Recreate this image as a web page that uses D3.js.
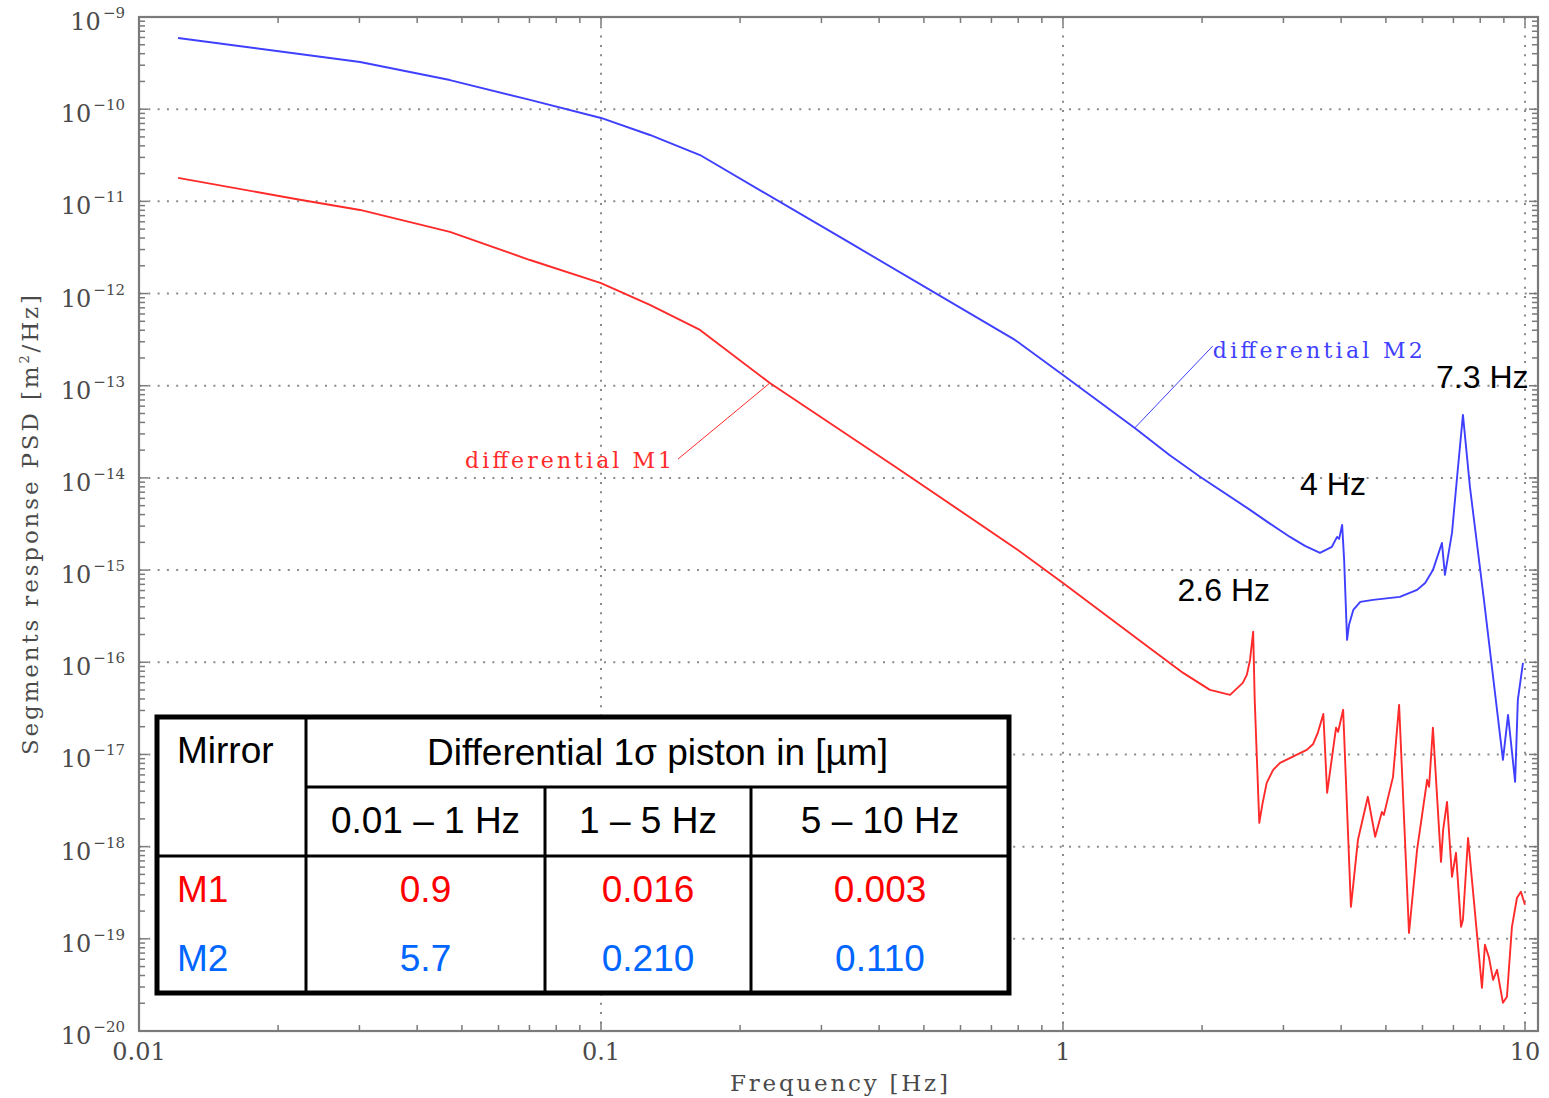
<!DOCTYPE html>
<html>
<head>
<meta charset="utf-8">
<script src="https://cdn.jsdelivr.net/npm/d3@7/dist/d3.min.js"></script>
<style>
body { margin: 0; background: #fff; }
</style>
</head>
<body>
<div id="viz"></div>
<script>
// differential M2 response (blue)
var m2_freq = [0.01215, 0.0301, 0.0471, 0.0702, 0.1, 0.1276, 0.1638, 0.346, 0.787, 1, 1.43, 1.70, 1.98, 2.54, 2.81, 3.10, 3.34, 3.60, 3.82, 3.92, 3.96, 4.02, 4.06, 4.12, 4.16, 4.25, 4.40, 4.69, 5.36, 5.84, 6.08, 6.32, 6.61, 6.71, 6.95, 7.13, 7.34, 7.60, 8.15, 8.96, 9.19, 9.52, 9.65, 9.90];
var m2_psd = [5.92e-10, 3.25e-10, 2.07e-10, 1.26e-10, 8.03e-11, 5.25e-11, 3.18e-11, 3.54e-12, 3.14e-13, 1.31e-13, 3.48e-14, 1.77e-14, 1.03e-14, 4.50e-15, 3.17e-15, 2.29e-15, 1.83e-15, 1.54e-15, 1.79e-15, 2.29e-15, 2.18e-15, 3.09e-15, 1.29e-15, 1.75e-16, 2.55e-16, 3.70e-16, 4.52e-16, 4.75e-16, 5.12e-16, 6.10e-16, 7.26e-16, 1.00e-15, 1.97e-15, 8.87e-16, 2.53e-15, 1.03e-14, 4.82e-14, 7.98e-15, 4.75e-16, 8.73e-18, 2.69e-17, 5.05e-18, 3.91e-17, 9.86e-17];

// differential M1 response (red)
var m1_freq = [0.01215, 0.0223, 0.0301, 0.0471, 0.0702, 0.1, 0.1276, 0.1638, 0.232, 0.444, 0.787, 1, 1.54, 1.82, 2.08, 2.30, 2.45, 2.50, 2.54, 2.58, 2.60, 2.66, 2.70, 2.76, 2.85, 2.95, 3.37, 3.48, 3.56, 3.66, 3.73, 3.90, 3.94, 4.04, 4.20, 4.35, 4.57, 4.74, 4.90, 4.95, 5.18, 5.34, 5.61, 5.84, 6.14, 6.20, 6.32, 6.58, 6.65, 6.78, 6.95, 7.09, 7.27, 7.34, 7.53, 8.07, 8.19, 8.36, 8.53, 8.70, 8.96, 9.14, 9.37, 9.61, 9.80, 10];
var m1_psd = [1.80e-11, 1.04e-11, 8.07e-12, 4.66e-12, 2.31e-12, 1.30e-12, 7.52e-13, 4.03e-13, 1.07e-13, 1.22e-14, 1.74e-15, 7.26e-16, 1.43e-16, 7.67e-17, 5.02e-17, 4.43e-17, 5.98e-17, 7.29e-17, 1.06e-16, 2.14e-16, 3.91e-17, 1.81e-18, 2.84e-18, 4.92e-18, 6.81e-18, 8.11e-18, 1.12e-17, 1.30e-17, 1.71e-17, 2.75e-17, 3.84e-18, 1.95e-17, 1.76e-17, 3.05e-17, 2.22e-19, 1.19e-18, 3.47e-18, 1.28e-18, 2.38e-18, 2.21e-18, 5.71e-18, 3.45e-17, 1.16e-19, 9.23e-19, 5.31e-18, 4.46e-18, 1.95e-17, 6.84e-19, 1.52e-18, 3.06e-18, 4.71e-19, 8.57e-19, 1.35e-19, 1.61e-19, 1.24e-18, 2.94e-20, 8.61e-20, 6.22e-20, 3.59e-20, 4.61e-20, 2.02e-20, 2.35e-20, 1.35e-19, 2.79e-19, 3.24e-19, 2.34e-19];

var x_ticks = [0.01, 0.1, 1, 10],
	x_tick_labels = ['0.01', '0.1', '1', '10'];
var y_exponents = [-9, -10, -11, -12, -13, -14, -15, -16, -17, -18, -19, -20];

var peak_labels = ['2.6 Hz', '4 Hz', '7.3 Hz'];
var table_bands = ['0.01 \u2013 1 Hz', '1 \u2013 5 Hz', '5 \u2013 10 Hz'];
var table_mirrors = ['M1', 'M2'];
var m1_piston = ['0.9', '0.016', '0.003'],
	m2_piston = ['5.7', '0.210', '0.110'];

var w = 1549,
	h = 1098,
	plot_left = 139,
	plot_right = 1538,
	plot_top = 17,
	plot_bottom = 1031;

var blue = '#3f3fff',
	red = '#ff2a2a',
	axis_grey = '#7a7a7a',
	serif = '"DejaVu Serif", "Liberation Serif", serif',
	sans = '"Liberation Sans", Arial, sans-serif';

var x = d3.scaleLog().domain([0.01, 10.67]).range([plot_left, plot_right]);
var y = d3.scaleLog().domain([1e-20, 1e-9]).range([plot_bottom, plot_top]);

var svg = d3.select('#viz').append('svg')
	.attr('width', w)
	.attr('height', h)
	.attr('viewBox', '0 0 ' + w + ' ' + h);

svg.append('rect')
	.attr('width', w)
	.attr('height', h)
	.attr('fill', '#fff');

//GRID
var grid = svg.append('g').attr('class', 'grid');
grid.selectAll('.hgrid')
	.data(y_exponents.filter(function(e){ return e !== -9 && e !== -20; }))
	.enter().append('line')
		.attr('class', 'hgrid')
		.attr('x1', plot_left)
		.attr('x2', plot_right)
		.attr('y1', function(d){ return y(Math.pow(10, d)); })
		.attr('y2', function(d){ return y(Math.pow(10, d)); })
		.attr('stroke', '#8a8a8a')
		.attr('stroke-width', 2)
		.attr('stroke-dasharray', '2,7.3');
grid.selectAll('.vgrid')
	.data(x_ticks.slice(1))
	.enter().append('line')
		.attr('class', 'vgrid')
		.attr('x1', function(d){ return x(d); })
		.attr('x2', function(d){ return x(d); })
		.attr('y1', plot_top)
		.attr('y2', plot_bottom)
		.attr('stroke', '#8a8a8a')
		.attr('stroke-width', 2)
		.attr('stroke-dasharray', '2,7.3');

//TICKS
var x_minor = [], y_minor = [];
for (var d = -2; d <= 0; d++) {
	for (var k = 1; k <= 9; k++) { x_minor.push({v: k * Math.pow(10, d), major: k === 1}); }
}
x_minor.push({v: 10, major: true});
for (var e = -20; e <= -10; e++) {
	for (var k2 = 1; k2 <= 9; k2++) { y_minor.push({v: k2 * Math.pow(10, e), major: k2 === 1}); }
}
y_minor.push({v: 1e-9, major: true});

var ticks = svg.append('g').attr('class', 'ticks')
	.attr('stroke', axis_grey)
	.attr('stroke-width', 1.5);
ticks.selectAll('.xt-top').data(x_minor).enter().append('line')
	.attr('x1', function(d){ return x(d.v); })
	.attr('x2', function(d){ return x(d.v); })
	.attr('y1', plot_top)
	.attr('y2', function(d){ return plot_top + (d.major ? 9 : 6); });
ticks.selectAll('.xt-bot').data(x_minor).enter().append('line')
	.attr('x1', function(d){ return x(d.v); })
	.attr('x2', function(d){ return x(d.v); })
	.attr('y1', plot_bottom)
	.attr('y2', function(d){ return plot_bottom - (d.major ? 9 : 6); });
ticks.selectAll('.yt-left').data(y_minor).enter().append('line')
	.attr('y1', function(d){ return y(d.v); })
	.attr('y2', function(d){ return y(d.v); })
	.attr('x1', plot_left)
	.attr('x2', function(d){ return plot_left + (d.major ? 9 : 6); });
ticks.selectAll('.yt-right').data(y_minor).enter().append('line')
	.attr('y1', function(d){ return y(d.v); })
	.attr('y2', function(d){ return y(d.v); })
	.attr('x1', plot_right)
	.attr('x2', function(d){ return plot_right - (d.major ? 9 : 6); });

//FRAME
svg.append('rect')
	.attr('x', plot_left)
	.attr('y', plot_top)
	.attr('width', plot_right - plot_left)
	.attr('height', plot_bottom - plot_top)
	.attr('fill', 'none')
	.attr('stroke', axis_grey)
	.attr('stroke-width', 2.2);

//TICK LABELS
svg.selectAll('.xlabel')
	.data(x_ticks)
	.enter().append('text')
		.attr('class', 'xlabel')
		.attr('x', function(d){ return x(d); })
		.attr('y', 1060)
		.attr('text-anchor', 'middle')
		.attr('font-family', serif)
		.attr('font-size', 24)
		.attr('fill', '#4a4a4a')
		.text(function(d, i){ return x_tick_labels[i]; });

var ylab = svg.selectAll('.ylabel')
	.data(y_exponents)
	.enter().append('text')
		.attr('class', 'ylabel')
		.attr('x', 125)
		.attr('y', function(d){ return y(Math.pow(10, d)) + 13; })
		.attr('text-anchor', 'end')
		.attr('font-family', serif)
		.attr('font-size', 24)
		.attr('fill', '#4a4a4a');
ylab.append('tspan').text('10');
ylab.append('tspan')
	.attr('dy', -12)
	.attr('dx', 2)
	.attr('font-size', 15)
	.text(function(d){ return '\u2212' + Math.abs(d); });

//AXIS TITLES
svg.append('text')
	.attr('x', 839)
	.attr('y', 1091)
	.attr('text-anchor', 'middle')
	.attr('font-family', serif)
	.attr('font-size', 23)
	.attr('fill', '#4a4a4a')
	.attr('textLength', 218)
	.attr('lengthAdjust', 'spacing')
	.text('Frequency [Hz]');

var ytitle = svg.append('text')
	.attr('transform', 'translate(38,525) rotate(-90)')
	.attr('text-anchor', 'middle')
	.attr('font-family', serif)
	.attr('font-size', 23)
	.attr('fill', '#4a4a4a')
	.attr('textLength', 460)
	.attr('lengthAdjust', 'spacing');
ytitle.append('tspan').text('Segments response PSD [m');
ytitle.append('tspan').attr('dy', -9).attr('font-size', 13).text('2');
ytitle.append('tspan').attr('dy', 9).text('/Hz]');

//CURVES
var line = d3.line()
	.x(function(d){ return x(d[0]); })
	.y(function(d){ return y(d[1]); });

svg.append('path')
	.datum(m1_freq.map(function(f, i){ return [f, m1_psd[i]]; }))
	.attr('class', 'm1')
	.attr('d', line)
	.attr('fill', 'none')
	.attr('stroke', red)
	.attr('stroke-width', 1.9)
	.attr('stroke-linejoin', 'round');

svg.append('path')
	.datum(m2_freq.map(function(f, i){ return [f, m2_psd[i]]; }))
	.attr('class', 'm2')
	.attr('d', line)
	.attr('fill', 'none')
	.attr('stroke', blue)
	.attr('stroke-width', 1.9)
	.attr('stroke-linejoin', 'round');

//CURVE LABELS
svg.append('line')
	.attr('x1', x(2.11)).attr('y1', y(2.0e-13) - 12)
	.attr('x2', x(1.43)).attr('y2', y(3.48e-14))
	.attr('stroke', blue)
	.attr('stroke-width', 1);
svg.append('text')
	.attr('x', x(2.11))
	.attr('y', y(2.0e-13))
	.attr('font-family', serif)
	.attr('font-size', 22)
	.attr('fill', blue)
	.attr('textLength', 210)
	.attr('lengthAdjust', 'spacing')
	.text('differential M2');

svg.append('line')
	.attr('x1', x(0.1468)).attr('y1', y(1.6e-14))
	.attr('x2', x(0.232)).attr('y2', y(1.07e-13))
	.attr('stroke', red)
	.attr('stroke-width', 1);
svg.append('text')
	.attr('x', x(0.0508))
	.attr('y', y(1.28e-14))
	.attr('font-family', serif)
	.attr('font-size', 22)
	.attr('fill', red)
	.attr('textLength', 207)
	.attr('lengthAdjust', 'spacing')
	.text('differential M1');

//PEAK LABELS
var peak_anchor = [[1.77, 4.6e-16], [3.26, 6.5e-15], [6.42, 9.5e-14]];
svg.selectAll('.peak')
	.data(peak_labels)
	.enter().append('text')
		.attr('class', 'peak')
		.attr('x', function(d, i){ return x(peak_anchor[i][0]); })
		.attr('y', function(d, i){ return y(peak_anchor[i][1]); })
		.attr('font-family', sans)
		.attr('font-size', 32)
		.attr('fill', '#000')
		.text(function(d){ return d; });

//TABLE
var tx0 = 157, tx1 = 1009, ty0 = 717, ty1 = 993;
var col_mid = 306, col_a = 545, col_b = 751, row_head = 787, row_body = 856;
var band_centers = [(col_mid + col_a) / 2, (col_a + col_b) / 2, (col_b + tx1) / 2];

var table = svg.append('g').attr('class', 'table');
table.append('rect')
	.attr('x', tx0).attr('y', ty0)
	.attr('width', tx1 - tx0).attr('height', ty1 - ty0)
	.attr('fill', '#fff');

var tlines = [
	[col_mid, ty0, col_mid, ty1],
	[col_a, row_head, col_a, ty1],
	[col_b, row_head, col_b, ty1],
	[col_mid, row_head, tx1, row_head],
	[tx0, row_body, tx1, row_body]
];
table.selectAll('.tline')
	.data(tlines)
	.enter().append('line')
		.attr('x1', function(d){ return d[0]; })
		.attr('y1', function(d){ return d[1]; })
		.attr('x2', function(d){ return d[2]; })
		.attr('y2', function(d){ return d[3]; })
		.attr('stroke', '#000')
		.attr('stroke-width', 3);

table.append('rect')
	.attr('x', tx0).attr('y', ty0)
	.attr('width', tx1 - tx0).attr('height', ty1 - ty0)
	.attr('fill', 'none')
	.attr('stroke', '#000')
	.attr('stroke-width', 5);

var tsize = 37;
table.append('text')
	.attr('x', 177).attr('y', 763)
	.attr('font-family', sans).attr('font-size', tsize)
	.text('Mirror');
table.append('text')
	.attr('x', (col_mid + tx1) / 2).attr('y', 765)
	.attr('text-anchor', 'middle')
	.attr('font-family', sans).attr('font-size', tsize)
	.text('Differential 1\u03c3 piston in [\u00b5m]');
table.selectAll('.band')
	.data(table_bands)
	.enter().append('text')
		.attr('class', 'band')
		.attr('x', function(d, i){ return band_centers[i]; })
		.attr('y', 833)
		.attr('text-anchor', 'middle')
		.attr('font-family', sans).attr('font-size', tsize)
		.text(function(d){ return d; });

var row_colors = ['#ff0000', '#0066ff'],
	row_values = [m1_piston, m2_piston],
	row_baselines = [902, 971];
table_mirrors.forEach(function(m, r){
	table.append('text')
		.attr('x', 177).attr('y', row_baselines[r])
		.attr('font-family', sans).attr('font-size', tsize)
		.attr('fill', row_colors[r])
		.text(m);
	table.selectAll('.val' + r)
		.data(row_values[r])
		.enter().append('text')
			.attr('class', 'val' + r)
			.attr('x', function(d, i){ return band_centers[i]; })
			.attr('y', row_baselines[r])
			.attr('text-anchor', 'middle')
			.attr('font-family', sans).attr('font-size', tsize)
			.attr('fill', row_colors[r])
			.text(function(d){ return d; });
});
</script>
</body>
</html>
